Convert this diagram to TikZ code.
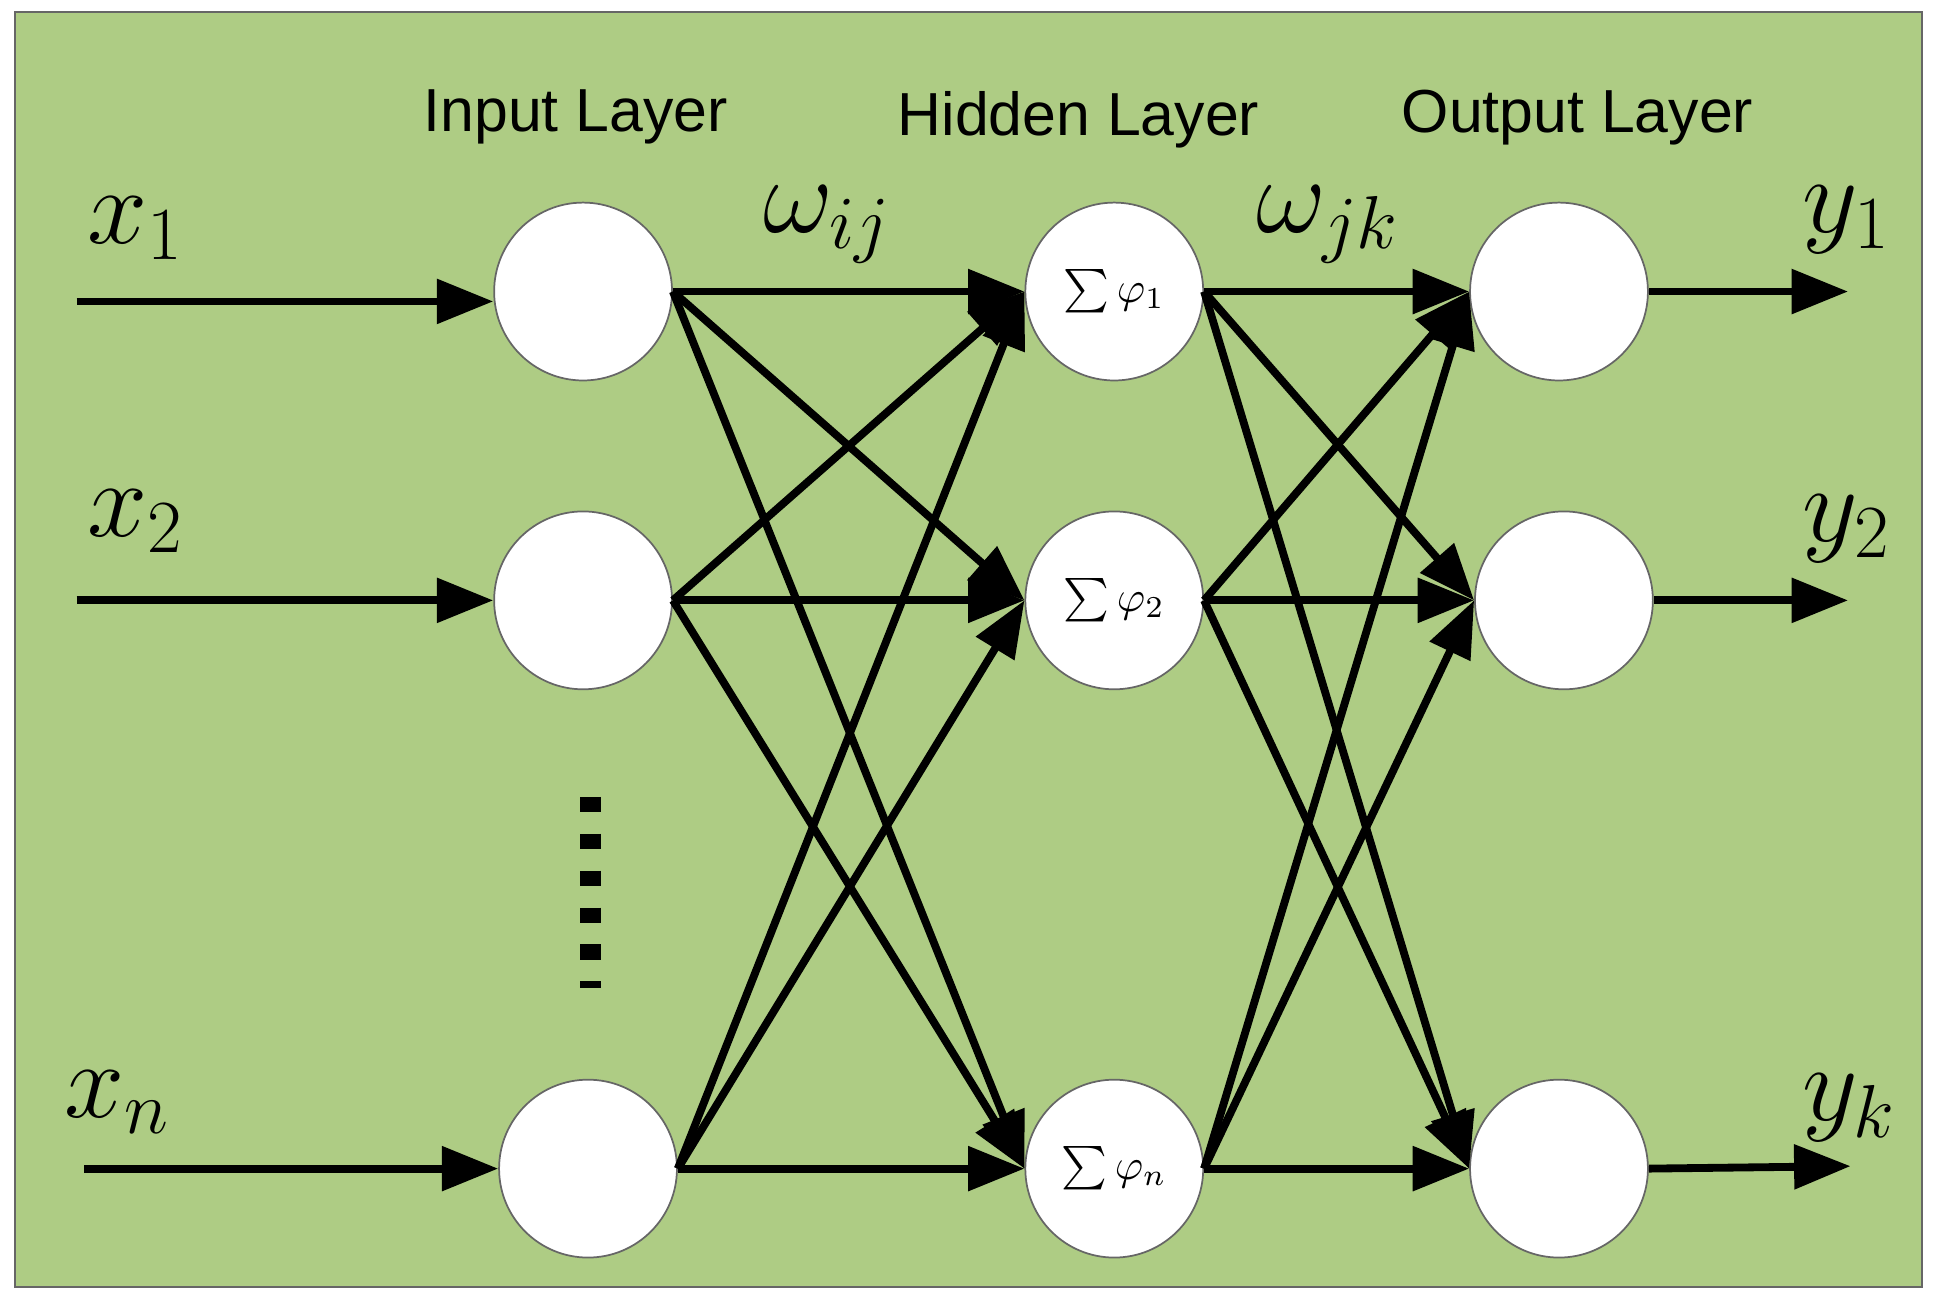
\documentclass[tikz,border=0pt]{standalone}
\usepackage{fontspec}
\setmainfont{Liberation Sans}
\usetikzlibrary{arrows.meta}
\definecolor{bggreen}{RGB}{174,204,132}

\tikzset{
  neuron/.style={circle,fill=white,draw=black!60,thin,minimum size=1.44cm,inner sep=0pt},
  link/.style={line width=1.8pt,-{Triangle[length=13pt,width=10pt]}},
  title/.style={font=\fontsize{14}{16}\selectfont},
  var/.style={font=\fontsize{26}{30}\selectfont}
}

\begin{document}
\begin{tikzpicture}[x=0.1mm,y=-0.1mm]

    \useasboundingbox (0,0) rectangle (1568,1050);
    \draw[fill=bggreen,draw=black!60] (12,10) rectangle (1556,1042);

    % layer titles
    \node[title] (tin) at (466,95) {Input Layer};
    \node[title] (thid) at (873,97) {Hidden Layer};
    \node[title] (tout) at (1277,95) {Output Layer};

    % neurons
    \node[neuron] (in1) at (472,236) {};
    \node[neuron] (in2) at (472,486) {};
    \node[neuron] (inn) at (476,946) {};

    \node[neuron] (hd1) at (902,236) {$\sum\varphi_1$};
    \node[neuron] (hd2) at (902,486) {$\sum\varphi_2$};
    \node[neuron] (hdn) at (902,946) {$\sum\varphi_n$};
    \foreach \h in {hd1,hd2,hdn}
        \node[font=\fontsize{22}{24}\selectfont] at (\h) {};

    \node[neuron] (out1) at (1262,236) {};
    \node[neuron] (out2) at (1266,486) {};
    \node[neuron] (outk) at (1262,946) {};

    % inputs and outputs
    \coordinate (a1) at (62,244);
    \coordinate (a2) at (62,486);
    \coordinate (an) at (68,946);
    \coordinate (b1) at (1496,236);
    \coordinate (b2) at (1496,486);
    \coordinate (bk) at (1498,944);

    \draw[link] (a1) -- (in1.west |- a1);
    \draw[link] (a2) -- (in2.west);
    \draw[link] (an) -- (inn.west);
    \draw[link] (out1.east) -- (b1);
    \draw[link] (out2.east) -- (b2);
    \draw[link] (outk.east) -- (bk);

    \node[var] (lx1) at (110,185) {$x_1$};
    \node[var] (lx2) at (110,422) {$x_2$};
    \node[var] (lxn) at (95,892) {$x_n$};
    \node[var] (ly1) at (1495,178) {$y_1$};
    \node[var] (ly2) at (1495,428) {$y_2$};
    \node[var] (lyk) at (1497,897) {$y_k$};

    \node[var] (wij) at (670,182) {$\omega_{ij}$};
    \node[var] (wjk) at (1075,182) {$\omega_{jk}$};

    % weights
    \foreach \i in {in1,in2,inn}
      \foreach \h in {hd1,hd2,hdn}
        \draw[link] (\i.east) -- (\h.west);
    \foreach \h in {hd1,hd2,hdn}
      \foreach \o in {out1,out2,outk}
        \draw[link] (\h.east) -- (\o.west);

    % dots
    \coordinate (d1) at (478,645);
    \coordinate (d2) at (478,800);
    \draw[line width=5pt,dash pattern=on 3.5pt off 5pt] (d1) -- (d2);

\end{tikzpicture}
\end{document}
